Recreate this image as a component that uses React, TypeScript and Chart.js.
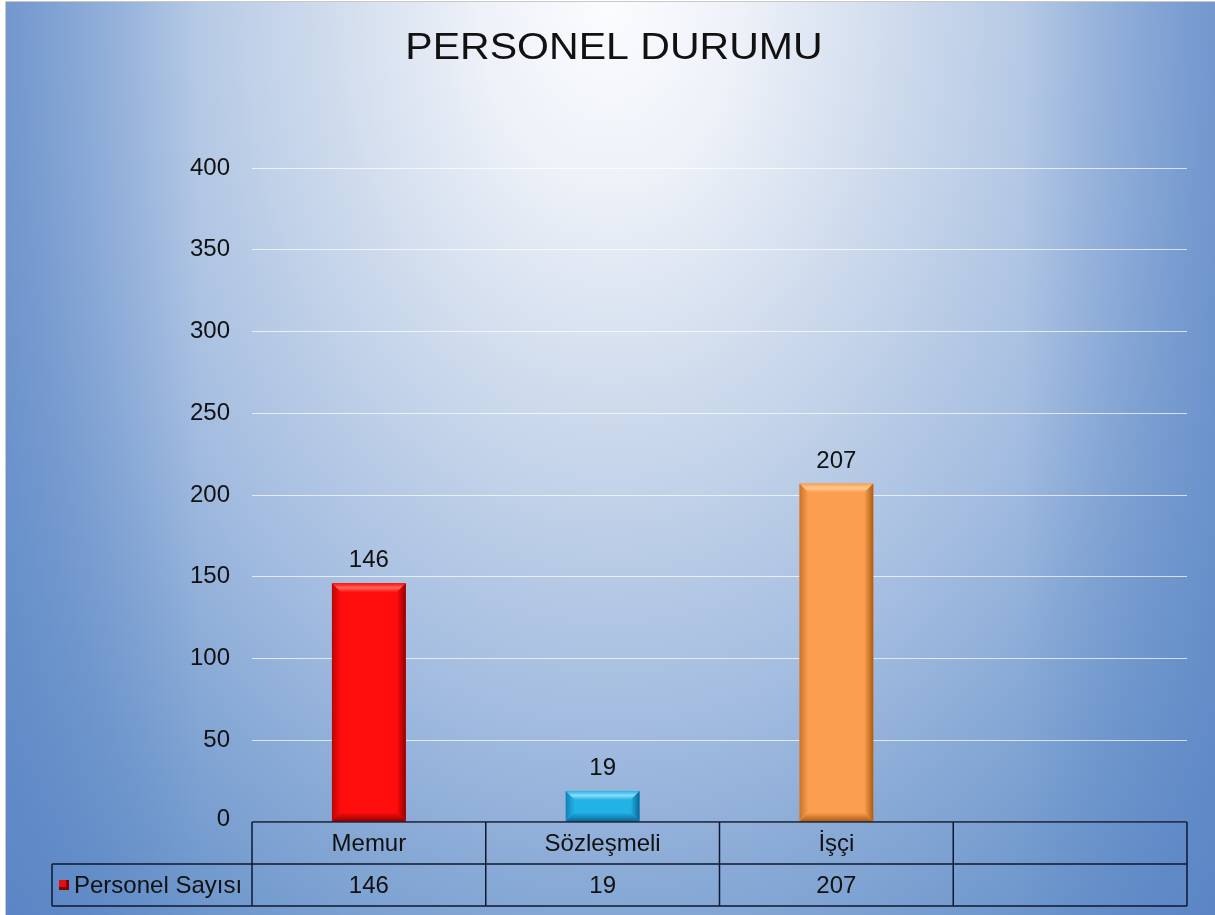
import React, { useEffect, useRef } from "react";
import Chart from "chart.js/auto";

const TITLE = "PERSONEL DURUMU";
const SERIES_NAME = "Personel Sayısı";
const categories = ["Memur", "Sözleşmeli", "İşçi", ""];
const values: (number | null)[] = [146, 19, 207, null];
const yMin = 0;
const yMax = 400;
const yStep = 50;
const barColors = ["#ff0c0c", "#22b2e6", "#fb9e50"];
const barLight = ["#ff6a5a", "#8adcf8", "#ffc98f"];
const barDark = ["#8e0000", "#0a6090", "#a85810"];
const legendColor = "#e01010";

const W = 1215;
const H = 915;
const FONT = "'Liberation Sans', Arial, sans-serif";

function drawBevelBar(ctx: CanvasRenderingContext2D, x: number, top: number, bottom: number, w: number, i: number) {
  const l = x - w / 2;
  const r = x + w / 2;
  const h = bottom - top;
  const b = Math.min(9, h / 2);
  ctx.save();
  ctx.fillStyle = barColors[i];
  ctx.fillRect(l, top, w, h);
  let g = ctx.createLinearGradient(0, top, 0, top + b);
  g.addColorStop(0, barColors[i]);
  g.addColorStop(0.5, barLight[i]);
  g.addColorStop(1, barColors[i]);
  ctx.fillStyle = g;
  ctx.beginPath();
  ctx.moveTo(l, top);
  ctx.lineTo(r, top);
  ctx.lineTo(r - b, top + b);
  ctx.lineTo(l + b, top + b);
  ctx.closePath();
  ctx.fill();
  g = ctx.createLinearGradient(l, 0, l + b, 0);
  g.addColorStop(0, barDark[i]);
  g.addColorStop(1, barColors[i]);
  ctx.globalAlpha = 0.6;
  ctx.fillStyle = g;
  ctx.beginPath();
  ctx.moveTo(l, top);
  ctx.lineTo(l + b, top + b);
  ctx.lineTo(l + b, bottom - b);
  ctx.lineTo(l, bottom);
  ctx.closePath();
  ctx.fill();
  g = ctx.createLinearGradient(r - b, 0, r, 0);
  g.addColorStop(0, barColors[i]);
  g.addColorStop(1, barDark[i]);
  ctx.globalAlpha = 0.95;
  ctx.fillStyle = g;
  ctx.beginPath();
  ctx.moveTo(r, top);
  ctx.lineTo(r - b, top + b);
  ctx.lineTo(r - b, bottom - b);
  ctx.lineTo(r, bottom);
  ctx.closePath();
  ctx.fill();
  g = ctx.createLinearGradient(0, bottom - b, 0, bottom);
  g.addColorStop(0, barColors[i]);
  g.addColorStop(1, barDark[i]);
  ctx.fillStyle = g;
  ctx.beginPath();
  ctx.moveTo(l, bottom);
  ctx.lineTo(l + b, bottom - b);
  ctx.lineTo(r - b, bottom - b);
  ctx.lineTo(r, bottom);
  ctx.closePath();
  ctx.fill();
  ctx.restore();
}

const backgroundPlugin = {
  id: "bg",
  beforeDraw(chart: any) {
    const ctx: CanvasRenderingContext2D = chart.ctx;
    ctx.save();
    ctx.fillStyle = "#ffffff";
    ctx.fillRect(0, 0, W, H);
    ctx.save();
    ctx.beginPath();
    ctx.rect(6, 2, W - 6, H - 2);
    ctx.clip();
    ctx.save();
    ctx.translate(610, 0);
    ctx.scale(1, 1.41);
    const g = ctx.createRadialGradient(0, 0, 0, 0, 0, 880);
    g.addColorStop(0, "#fbfcfe");
    g.addColorStop(0.15, "#edf1f8");
    g.addColorStop(0.3, "#d3deee");
    g.addColorStop(0.45, "#b9cce6");
    g.addColorStop(0.6, "#a0badf");
    g.addColorStop(0.73, "#86a8d5");
    g.addColorStop(0.85, "#7199cd");
    g.addColorStop(1, "#5b86c4");
    ctx.fillStyle = g;
    ctx.fillRect(-800, -100, 1600, 900);
    ctx.restore();
    const e = ctx.createLinearGradient(6, 0, W, 0);
    e.addColorStop(0, "rgba(92,134,198,0.55)");
    e.addColorStop(0.16, "rgba(92,134,198,0)");
    e.addColorStop(0.84, "rgba(92,134,198,0)");
    e.addColorStop(1, "rgba(92,134,198,0.55)");
    ctx.fillStyle = e;
    ctx.fillRect(6, 2, W - 6, H - 2);
    ctx.restore();
    ctx.strokeStyle = "#c8c8c8";
    ctx.lineWidth = 1;
    ctx.beginPath();
    ctx.moveTo(5.5, H);
    ctx.lineTo(5.5, 1.5);
    ctx.lineTo(W, 1.5);
    ctx.stroke();
    ctx.restore();
  },
};

const overlayPlugin = {
  id: "overlay",
  afterDatasetsDraw(chart: any) {
    const ctx: CanvasRenderingContext2D = chart.ctx;
    const meta = chart.getDatasetMeta(0);
    meta.data.forEach((el: any, i: number) => {
      const v = values[i];
      if (v === null || v === undefined) return;
      drawBevelBar(ctx, el.x, el.y, el.base, el.width, i);
      ctx.save();
      ctx.fillStyle = "#111111";
      ctx.font = `24px ${FONT}`;
      ctx.textAlign = "center";
      ctx.textBaseline = "alphabetic";
      ctx.fillText(String(v), el.x, el.y - 16);
      ctx.restore();
    });
  },
  afterDraw(chart: any) {
    const ctx: CanvasRenderingContext2D = chart.ctx;
    const area = chart.chartArea;
    const xs = chart.scales.x;
    const ys = chart.scales.y;
    ctx.save();
    ctx.fillStyle = "#111111";
    ctx.font = `36px ${FONT}`;
    ctx.textAlign = "center";
    ctx.textBaseline = "alphabetic";
    ctx.save();
    ctx.translate(614, 59);
    ctx.scale(1.14, 1);
    ctx.fillText(TITLE, 0, 0);
    ctx.restore();
    ctx.font = `24px ${FONT}`;
    ctx.textAlign = "right";
    ctx.textBaseline = "middle";
    for (let v = yMin; v <= yMax; v += yStep) {
      const y = ys.getPixelForValue(v);
      ctx.fillText(String(v), area.left - 22, v === 0 ? y - 3 : y);
    }
    const rowH = 42;
    const top = area.bottom;
    const mid = top + rowH;
    const bot = mid + rowH;
    const colW = (area.right - area.left) / categories.length;
    const legendLeft = 52;
    ctx.strokeStyle = "#0e1830";
    ctx.lineWidth = 1.5;
    ctx.beginPath();
    ctx.moveTo(area.left, top);
    ctx.lineTo(area.right, top);
    ctx.moveTo(legendLeft, mid);
    ctx.lineTo(area.right, mid);
    ctx.moveTo(legendLeft, bot);
    ctx.lineTo(area.right, bot);
    ctx.moveTo(legendLeft, mid);
    ctx.lineTo(legendLeft, bot);
    for (let i = 0; i <= categories.length; i++) {
      const x = area.left + i * colW;
      ctx.moveTo(x, top);
      ctx.lineTo(x, bot);
    }
    ctx.stroke();
    ctx.fillStyle = "#111111";
    ctx.textAlign = "center";
    ctx.textBaseline = "middle";
    categories.forEach((c, i) => {
      const cx = xs.getPixelForValue(i);
      if (c) ctx.fillText(c, cx, top + rowH / 2 + 1);
      const v = values[i];
      if (v !== null && v !== undefined) ctx.fillText(String(v), cx, mid + rowH / 2 + 1);
    });
    ctx.fillStyle = legendColor;
    ctx.fillRect(59, mid + 16, 10, 10);
    ctx.fillStyle = "#8a0000";
    ctx.fillRect(66, mid + 16, 3, 10);
    ctx.fillRect(59, mid + 23, 10, 3);
    ctx.fillStyle = "#111111";
    ctx.textAlign = "left";
    ctx.font = `24px ${FONT}`;
    ctx.fillText(SERIES_NAME, 74, mid + rowH / 2 + 1);
    ctx.restore();
  },
};

export default function App() {
  const canvasRef = useRef<HTMLCanvasElement | null>(null);
  useEffect(() => {
    document.body.style.margin = "0";
    const canvas = canvasRef.current;
    if (!canvas) return;
    const chart = new Chart(canvas, {
      type: "bar",
      data: {
        labels: categories,
        datasets: [
          {
            label: SERIES_NAME,
            data: values as any,
            backgroundColor: "rgba(0,0,0,0)",
            borderWidth: 0,
            categoryPercentage: 0.316,
            barPercentage: 1,
          },
        ],
      },
      options: {
        responsive: false,
        animation: false,
        devicePixelRatio: 1,
        layout: { padding: { top: 168, right: 28, bottom: 93, left: 252 } },
        plugins: {
          legend: { display: false },
          tooltip: { enabled: false },
          title: { display: false },
        },
        scales: {
          x: { display: false },
          y: {
            min: yMin,
            max: yMax,
            ticks: { stepSize: yStep, display: false },
            grid: { color: "rgba(255,255,255,0.7)", lineWidth: 1, drawTicks: false },
            border: { display: false },
            afterFit: (s: any) => {
              s.width = 0;
            },
          },
        },
      },
      plugins: [backgroundPlugin, overlayPlugin],
    });
    return () => chart.destroy();
  }, []);
  return (
    <div style={{ position: "fixed", left: 0, top: 0, width: W, height: H }}>
      <canvas ref={canvasRef} width={W} height={H} style={{ display: "block" }} />
    </div>
  );
}
